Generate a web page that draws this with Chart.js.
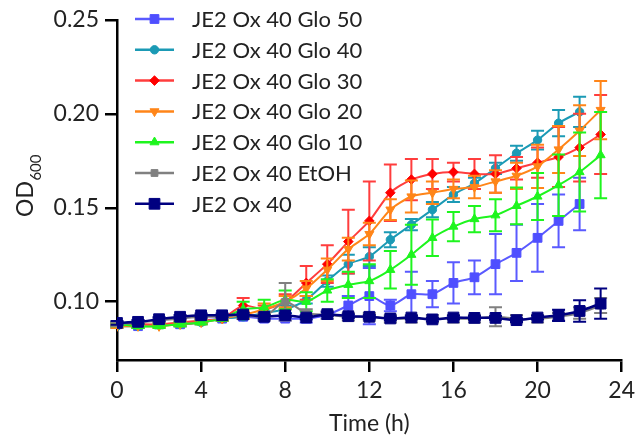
<!DOCTYPE html>
<html><head><meta charset="utf-8">
<script src="https://cdn.jsdelivr.net/npm/chart.js@4"></script>
<style>html,body{margin:0;padding:0;background:#fff}#wrap{width:640px;height:443px;position:relative}</style>
</head><body><div id="wrap"><canvas id="c" width="640" height="443"></canvas></div>
<script>
// ---- data ----
const hours = [0,1,2,3,4,5,6,7,8,9,10,11,12,13,14,15,16,17,18,19,20,21,22,23];
const xTicks = [0,4,8,12,16,20,24];
const yTicks = [0.10,0.15,0.20,0.25];
const seriesNames = ['JE2 Ox 40 Glo 50','JE2 Ox 40 Glo 40','JE2 Ox 40 Glo 30','JE2 Ox 40 Glo 20','JE2 Ox 40 Glo 10','JE2 Ox 40 EtOH','JE2 Ox 40'];

const glo50    = [0.088,0.087,0.088,0.088,0.090,0.091,0.092,0.091,0.091,0.091,0.093,0.098,0.103,0.098,0.104,0.104,0.110,0.113,0.120,0.126,0.134,0.143,0.152];
const glo50Err = [0.001,0.001,0.001,0.001,0.001,0.001,0.001,0.001,0.001,0.002,0.002,0.005,0.015,0.003,0.012,0.007,0.011,0.009,0.016,0.015,0.018,0.014,0.014];
const glo40    = [0.087,0.087,0.088,0.088,0.089,0.091,0.092,0.094,0.096,0.101,0.111,0.120,0.124,0.133,0.141,0.149,0.157,0.163,0.171,0.179,0.186,0.195,0.201];
const glo40Err = [0.001,0.001,0.001,0.001,0.001,0.001,0.001,0.001,0.002,0.002,0.003,0.005,0.005,0.004,0.003,0.004,0.004,0.003,0.003,0.004,0.005,0.007,0.008];
const glo30    = [0.088,0.088,0.088,0.089,0.090,0.091,0.098,0.096,0.100,0.110,0.120,0.132,0.143,0.158,0.165,0.168,0.169,0.168,0.168,0.171,0.174,0.177,0.182,0.189];
const glo30Err = [0.001,0.001,0.001,0.001,0.001,0.001,0.004,0.002,0.004,0.009,0.010,0.017,0.021,0.015,0.011,0.008,0.005,0.008,0.010,0.006,0.008,0.016,0.018,0.021];
const glo20    = [0.087,0.087,0.087,0.088,0.089,0.091,0.093,0.096,0.100,0.107,0.117,0.128,0.136,0.149,0.156,0.158,0.160,0.161,0.164,0.167,0.172,0.181,0.191,0.202];
const glo20Err = [0.001,0.001,0.001,0.001,0.001,0.001,0.002,0.003,0.003,0.004,0.006,0.006,0.006,0.0055,0.0085,0.006,0.005,0.006,0.006,0.007,0.0115,0.0125,0.0135,0.0155];
const glo10    = [0.088,0.087,0.087,0.088,0.089,0.091,0.096,0.097,0.101,0.100,0.106,0.109,0.111,0.117,0.125,0.134,0.140,0.144,0.146,0.151,0.156,0.162,0.169,0.178];
const glo10Err = [0.001,0.001,0.001,0.001,0.001,0.001,0.004,0.004,0.005,0.005,0.006,0.007,0.009,0.010,0.016,0.0097,0.0078,0.007,0.0085,0.0098,0.0125,0.0164,0.021,0.023];
const etoh     = [0.088,0.089,0.090,0.091,0.092,0.092,0.093,0.092,0.100,0.094,0.093,0.092,0.092,0.091,0.091,0.091,0.091,0.091,0.092,0.091,0.091,0.092,0.094,0.098];
const etohErr  = [0.001,0.001,0.001,0.001,0.001,0.001,0.001,0.002,0.010,0.002,0.002,0.002,0.002,0.002,0.002,0.002,0.002,0.002,0.005,0.002,0.002,0.002,0.003,0.004];
const ox40     = [0.0887,0.0893,0.0907,0.092,0.0928,0.0928,0.0932,0.092,0.0928,0.0916,0.0934,0.0923,0.092,0.0911,0.0916,0.0906,0.0916,0.0914,0.0914,0.0902,0.0916,0.0928,0.0951,0.099];
const ox40Err  = [0.001,0.001,0.001,0.001,0.001,0.001,0.001,0.001,0.001,0.001,0.001,0.001,0.001,0.001,0.001,0.001,0.001,0.001,0.001,0.001,0.001,0.003,0.0057,0.008];

// ---- build ----
const FONT = 'Lato';
const TXT = '#222222';
const pts = vals => vals.map((v,i)=>({x:hours[i], y:v}));
function mk(i, vals, errs, line, mark, style, radius, rotation, order, lw){
  return {label: seriesNames[i], data: pts(vals), errors: errs, borderColor: line, backgroundColor: mark,
    pointBackgroundColor: mark, pointBorderColor: mark, pointStyle: style, pointRadius: radius,
    pointRotation: rotation, pointBorderWidth: 1, borderWidth: lw, tension: 0.25, order: order, errColor: line};
}
const datasets = [
  mk(0, glo50, glo50Err, '#5a5aff', '#4f4fff', 'rect', 6.2, 0, 6, 2),
  mk(1, glo40, glo40Err, '#1b9ab5', '#1b9ab5', 'circle', 4.2, 0, 5, 2),
  mk(2, glo30, glo30Err, '#ff3d3d', '#ff0000', 'rectRot', 4.8, 0, 4, 2),
  mk(3, glo20, glo20Err, '#ff8518', '#ff8518', 'triangle', 5.2, 180, 3, 2),
  mk(4, glo10, glo10Err, '#1ef51e', '#1ef51e', 'triangle', 5.2, 0, 2, 2),
  mk(5, etoh, etohErr, '#808080', '#808080', 'rect', 4.8, 0, 1, 2),
  mk(6, ox40, ox40Err, '#000080', '#000080', 'rect', 7.6, 0, 0, 2.5)
];

const errorBarPlugin = {
  id: 'errbars',
  beforeDatasetDraw(chart, args){
    const ds = chart.data.datasets[args.index];
    if (!ds.errors) return;
    const xs = chart.scales.x, ys = chart.scales.y, ctx = chart.ctx;
    ctx.save();
    ctx.strokeStyle = ds.errColor; ctx.lineWidth = 2;
    ds.data.forEach((p,i)=>{
      const e = ds.errors[i]; if (!e) return;
      const px = xs.getPixelForValue(p.x);
      const yt = ys.getPixelForValue(p.y + e), yb = ys.getPixelForValue(p.y - e);
      ctx.beginPath();
      ctx.moveTo(px, yt); ctx.lineTo(px, yb);
      ctx.moveTo(px-6.5, yt); ctx.lineTo(px+6.5, yt);
      ctx.moveTo(px-6.5, yb); ctx.lineTo(px+6.5, yb);
      ctx.stroke();
    });
    ctx.restore();
  }
};

const legendPlugin = {
  id: 'legendIn',
  afterDraw(chart){
    const ctx = chart.ctx;
    chart.data.datasets.forEach((ds,i)=>{
      const y = 19 + i*30.8;
      ctx.save();
      ctx.strokeStyle = ds.borderColor; ctx.lineWidth = 2.5;
      ctx.beginPath(); ctx.moveTo(135,y); ctx.lineTo(174,y); ctx.stroke();
      ctx.fillStyle = ds.pointBackgroundColor; ctx.strokeStyle = ds.pointBorderColor; ctx.lineWidth = 1;
      Chart.helpers.drawPoint(ctx, {pointStyle: ds.pointStyle, radius: ds.pointRadius, rotation: ds.pointRotation, borderWidth: 1}, 154.5, y);
      ctx.fillStyle = TXT; ctx.font = '22px ' + FONT; ctx.textBaseline = 'middle'; ctx.textAlign = 'left';
      ctx.fillText(ds.label, 192, y + 1);
      ctx.restore();
    });
  }
};

const titlesPlugin = {
  id: 'titles',
  afterDraw(chart){
    const ctx = chart.ctx, ca = chart.chartArea;
    ctx.save();
    ctx.fillStyle = TXT;
    ctx.font = '23px ' + FONT; ctx.textAlign = 'center'; ctx.textBaseline = 'alphabetic';
    ctx.fillText('Time (h)', (ca.left + ca.right)/2, 431);
    // y title OD600 with subscript
    const main = 'OD', sub = '600';
    ctx.font = '23px ' + FONT; const w1 = ctx.measureText(main).width;
    ctx.font = '15px ' + FONT; const w2 = ctx.measureText(sub).width;
    ctx.translate(33, 186);
    ctx.rotate(-Math.PI/2);
    ctx.textAlign = 'left';
    const start = -(w1 + w2)/2;
    ctx.font = '23px ' + FONT; ctx.fillText(main, start, 0);
    ctx.font = '15px ' + FONT; ctx.fillText(sub, start + w1 + 0.5, 8);
    ctx.restore();
  }
};

new Chart(document.getElementById('c'), {
  type: 'line',
  data: {datasets},
  plugins: [errorBarPlugin, legendPlugin, titlesPlugin],
  options: {
    responsive: false, animation: false, devicePixelRatio: 1,
    layout: {padding: {top: 19, right: 15, bottom: 0, left: 0}},
    plugins: {legend: {display: false}, tooltip: {enabled: false}},
    scales: {
      x: {type: 'linear', min: 0, max: 24,
        afterBuildTicks: s => { s.ticks = xTicks.map(v=>({value:v})); },
        afterFit: s => { s.height = 83; },
        ticks: {font: {family: FONT, size: 23}, color: TXT, padding: 5, maxRotation: 0},
        grid: {drawOnChartArea: false, drawTicks: true, tickLength: 12, color: '#000', lineWidth: 2.5},
        border: {display: true, color: '#000', width: 2.5}
      },
      y: {type: 'linear', min: 0.069, max: 0.25,
        afterBuildTicks: s => { s.ticks = yTicks.map(v=>({value:v})); },
        afterFit: s => { s.width = 117; },
        ticks: {font: {family: FONT, size: 23}, color: TXT, padding: 6, callback: v => v.toFixed(2)},
        grid: {drawOnChartArea: false, drawTicks: true, tickLength: 12, color: '#000', lineWidth: 2.5},
        border: {display: true, color: '#000', width: 2.5}
      }
    }
  }
});
</script></body></html>
